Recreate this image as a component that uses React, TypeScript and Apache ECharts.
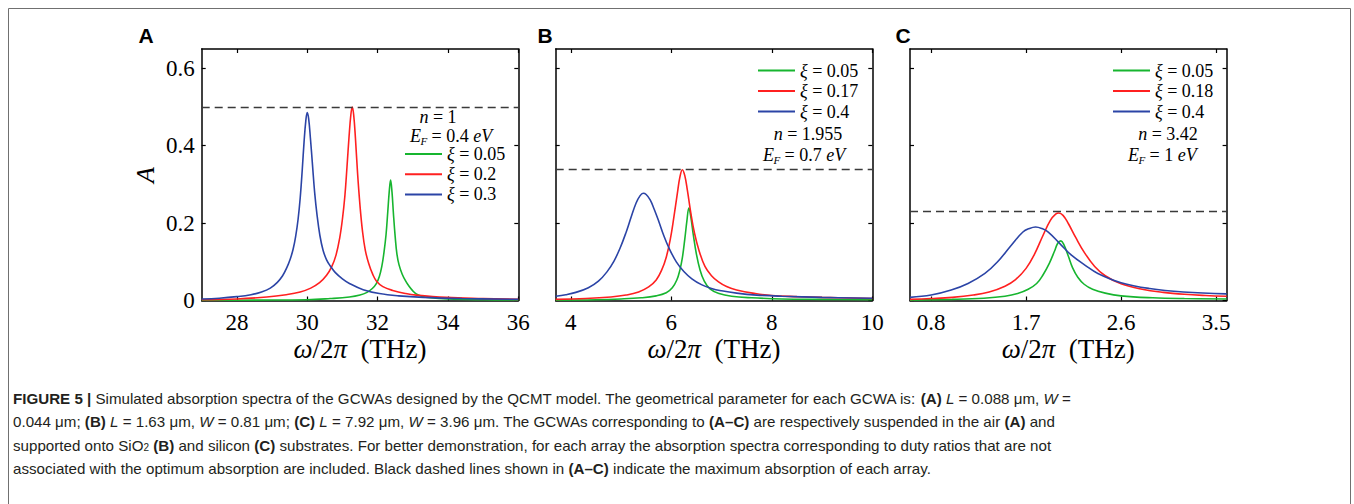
import React, { useEffect, useRef } from "react";
import * as echarts from "echarts";

// ---------- data ----------
const namesA = ["ξ = 0.05", "ξ = 0.2", "ξ = 0.3"];
const namesB = ["ξ = 0.05", "ξ = 0.17", "ξ = 0.4"];
const namesC = ["ξ = 0.05", "ξ = 0.18", "ξ = 0.4"];

const aGreen = [
  [27, 0.0], [28.5, 0.001], [30, 0.002], [30.65, 0.005], [31.2, 0.009], [31.5, 0.014],
  [31.7, 0.021], [31.85, 0.031], [31.96, 0.043], [32.05, 0.062], [32.12, 0.088], [32.18, 0.123],
  [32.24, 0.17], [32.29, 0.23], [32.33, 0.28], [32.37, 0.311], [32.41, 0.28], [32.45, 0.225],
  [32.5, 0.165], [32.55, 0.12], [32.61, 0.092], [32.7, 0.068], [32.8, 0.05], [32.9, 0.036],
  [33.0, 0.025], [33.1, 0.017], [33.25, 0.011], [33.5, 0.007], [34, 0.004], [35, 0.002], [36, 0.001],
];
const aRed = [
  [27, 0.002], [28, 0.004], [28.85, 0.009], [29.4, 0.015], [29.8, 0.022], [30.1, 0.032],
  [30.35, 0.046], [30.55, 0.065], [30.7, 0.088], [30.82, 0.118], [30.92, 0.16], [31.0, 0.21],
  [31.07, 0.27], [31.13, 0.345], [31.19, 0.425], [31.24, 0.48], [31.28, 0.5], [31.32, 0.48],
  [31.37, 0.42], [31.43, 0.33], [31.5, 0.245], [31.57, 0.18], [31.65, 0.13], [31.75, 0.095],
  [31.86, 0.068], [31.97, 0.05], [32.15, 0.036], [32.43, 0.026], [32.8, 0.018], [33.1, 0.014],
  [33.95, 0.008], [35, 0.005], [36, 0.003],
];
const aBlue = [
  [27, 0.004], [27.5, 0.006], [28, 0.01], [28.4, 0.015], [28.7, 0.022], [28.95, 0.032],
  [29.15, 0.047], [29.3, 0.064], [29.42, 0.085], [29.52, 0.108], [29.6, 0.133], [29.67, 0.165],
  [29.74, 0.21], [29.8, 0.265], [29.86, 0.34], [29.91, 0.41], [29.96, 0.465], [30.0, 0.486],
  [30.04, 0.47], [30.09, 0.42], [30.15, 0.35], [30.21, 0.28], [30.28, 0.22], [30.36, 0.168],
  [30.45, 0.13], [30.55, 0.105], [30.65, 0.09], [30.8, 0.072], [31.0, 0.056], [31.2, 0.044],
  [31.59, 0.028], [32.05, 0.018], [32.6, 0.012], [33.3, 0.008], [34.4, 0.005], [36, 0.003],
];

const bGreen = [
  [3.7, 0.001], [4.5, 0.002], [5.0, 0.004], [5.4, 0.007], [5.7, 0.012], [5.9, 0.02],
  [6.02, 0.033], [6.11, 0.053], [6.17, 0.078], [6.22, 0.11], [6.27, 0.16], [6.31, 0.205],
  [6.35, 0.239], [6.39, 0.215], [6.44, 0.168], [6.5, 0.12], [6.57, 0.08], [6.65, 0.052],
  [6.77, 0.03], [6.95, 0.018], [7.2, 0.011], [7.6, 0.007], [8.2, 0.004], [9, 0.003], [10, 0.002],
];
const bRed = [
  [3.7, 0.003], [4.3, 0.005], [4.8, 0.009], [5.1, 0.014], [5.35, 0.022], [5.55, 0.035],
  [5.7, 0.053], [5.81, 0.079], [5.9, 0.112], [5.98, 0.158], [6.05, 0.214], [6.12, 0.276],
  [6.17, 0.318], [6.22, 0.338], [6.27, 0.322], [6.32, 0.285], [6.39, 0.225], [6.46, 0.175],
  [6.55, 0.13], [6.67, 0.088], [6.8, 0.064], [6.94, 0.048], [7.1, 0.036], [7.3, 0.027],
  [7.67, 0.018], [8.0, 0.013], [8.5, 0.01], [9, 0.008], [10, 0.005],
];
const bBlue = [
  [3.7, 0.011], [3.9, 0.015], [4.1, 0.021], [4.35, 0.033], [4.55, 0.05], [4.72, 0.074],
  [4.86, 0.102], [4.98, 0.135], [5.1, 0.176], [5.2, 0.215], [5.3, 0.252], [5.38, 0.271],
  [5.44, 0.277], [5.5, 0.274], [5.58, 0.26], [5.66, 0.236], [5.75, 0.205], [5.85, 0.168],
  [5.96, 0.134], [6.1, 0.1], [6.25, 0.075], [6.41, 0.056], [6.6, 0.041], [6.8, 0.031],
  [7.0, 0.025], [7.3, 0.019], [7.7, 0.014], [8.2, 0.011], [9, 0.008], [10, 0.006],
];

const cGreen = [
  [0.6, 0.001], [1.0, 0.003], [1.3, 0.006], [1.5, 0.011], [1.62, 0.018], [1.72, 0.029],
  [1.8, 0.044], [1.86, 0.066], [1.92, 0.096], [1.97, 0.128], [2.0, 0.148], [2.03, 0.154],
  [2.06, 0.143], [2.1, 0.115], [2.14, 0.085], [2.19, 0.06], [2.25, 0.042], [2.33, 0.029],
  [2.45, 0.019], [2.6, 0.012], [2.9, 0.007], [3.2, 0.005], [3.6, 0.004],
];
const cRed = [
  [0.6, 0.003], [0.8, 0.005], [1.0, 0.008], [1.2, 0.014], [1.35, 0.022], [1.5, 0.037],
  [1.6, 0.054], [1.7, 0.083], [1.78, 0.12], [1.86, 0.168], [1.93, 0.207], [1.98, 0.223],
  [2.01, 0.226], [2.05, 0.22], [2.1, 0.199], [2.17, 0.163], [2.25, 0.125], [2.35, 0.088],
  [2.45, 0.064], [2.6, 0.043], [2.8, 0.029], [3.0, 0.021], [3.2, 0.016], [3.4, 0.013], [3.6, 0.011],
];
const cBlue = [
  [0.6, 0.008], [0.8, 0.014], [0.99, 0.027], [1.15, 0.044], [1.31, 0.07], [1.43, 0.1],
  [1.56, 0.143], [1.67, 0.177], [1.73, 0.186], [1.79, 0.19], [1.85, 0.186], [1.91, 0.177],
  [2.02, 0.147], [2.13, 0.117], [2.26, 0.091], [2.38, 0.07], [2.6, 0.046], [2.87, 0.031],
  [3.19, 0.022], [3.6, 0.017],
];

const maxA = 0.5;
const maxB = 0.338;
const maxC = 0.226;

const xTicksA = [28, 30, 32, 34, 36];
const xTicksB = [4, 6, 8, 10];
const xTicksC = [0.8, 1.7, 2.6, 3.5];
const yTicks = [0, 0.2, 0.4, 0.6];

// ---------- styling ----------
const SERIF = '"Liberation Serif", "Times New Roman", serif';
const SANS = '"Liberation Sans", Arial, sans-serif';
const COLORS = ["#17b52f", "#ff2020", "#2b44a6"];
const CAP = 15.15;

export default function App() {
  const ref = useRef<HTMLDivElement>(null);

  useEffect(() => {
    if (!ref.current) return;
    const chart = echarts.init(ref.current, null, { renderer: "svg" });

    const panels = [
      { left: 201.7, min: 27, max: 36, ticks: xTicksA, names: namesA, data: [aGreen, aRed, aBlue], peak: maxA, lgLeft: 405, lgTop: 145, lgGap: 2.2 },
      { left: 555.7, min: 3.7, max: 10, ticks: xTicksB, names: namesB, data: [bGreen, bRed, bBlue], peak: maxB, lgLeft: 758, lgTop: 61.5, lgGap: 2.5 },
      { left: 910, min: 0.6, max: 3.6, ticks: xTicksC, names: namesC, data: [cGreen, cRed, cBlue], peak: maxC, lgLeft: 1113, lgTop: 61.5, lgGap: 2.5 },
    ];

    const grid: any[] = [];
    const xAxis: any[] = [];
    const yAxis: any[] = [];
    const series: any[] = [];
    const legend: any[] = [];

    const axisLine = { show: true, onZero: false, lineStyle: { color: "#000", width: 1.5 } };
    const tick = (vals: number[]) => ({
      show: true, inside: true, length: 4, customValues: vals, lineStyle: { color: "#000", width: 1.2 },
    });

    panels.forEach((p, i) => {
      grid.push({ left: p.left, top: 49, width: 316.6, height: 251.5 });
      const labelStyle = { fontFamily: SERIF, fontSize: 23, color: "#000" };
      xAxis.push({
        type: "value", gridIndex: i, min: p.min, max: p.max, position: "bottom",
        axisLine, axisTick: tick(p.ticks),
        axisLabel: { show: true, customValues: p.ticks, margin: 10, ...labelStyle },
        splitLine: { show: false },
        name: "{i|ω}/2{i|π}  (THz)", nameLocation: "middle", nameGap: 35,
        nameTextStyle: {
          fontFamily: SERIF, fontSize: 27, color: "#000",
          rich: { i: { fontFamily: SERIF, fontSize: 27, fontStyle: "italic", color: "#000" } },
        },
      });
      xAxis.push({
        type: "value", gridIndex: i, min: p.min, max: p.max, position: "top",
        axisLine, axisTick: tick(p.ticks),
        axisLabel: { show: false },
        splitLine: { show: false },
      });
      yAxis.push({
        type: "value", gridIndex: i, min: 0, max: 0.65, position: "left",
        axisLine, axisTick: tick(yTicks),
        axisLabel: { show: i === 0, customValues: yTicks, margin: 7, ...labelStyle },
        splitLine: { show: false },
      });
      yAxis.push({
        type: "value", gridIndex: i, min: 0, max: 0.65, position: "right",
        axisLine, axisTick: tick(yTicks),
        axisLabel: { show: false },
        splitLine: { show: false },
      });
      p.names.forEach((nm, k) => {
        const s: any = {
          type: "line", name: nm, xAxisIndex: 2 * i, yAxisIndex: 2 * i,
          data: p.data[k], showSymbol: false, symbol: "none",
          smooth: 0.4,
          lineStyle: { color: COLORS[k], width: 1.6 }, itemStyle: { color: COLORS[k] },
          z: 3,
        };
        if (k === 1) {
          s.markLine = {
            silent: true, symbol: ["none", "none"], label: { show: false },
            lineStyle: { type: [8, 5], color: "#3a3a3a", width: 1.3 },
            data: [{ yAxis: p.peak }],
          };
        }
        series.push(s);
      });
      legend.push({
        orient: "vertical", left: p.lgLeft, top: p.lgTop, padding: 0,
        icon: "rect", itemWidth: 37, itemHeight: 2, itemGap: p.lgGap,
        data: p.names,
        formatter: (name: string) => "{i|ξ}{r|" + name.slice(1) + "}",
        textStyle: {
          fontFamily: SERIF, fontSize: 18, color: "#000",
          rich: {
            i: { fontFamily: SERIF, fontSize: 18, fontStyle: "italic", color: "#000" },
            r: { fontFamily: SERIF, fontSize: 18, color: "#000" },
          },
        },
      });
    });

    const mathRich = {
      i: { fontFamily: SERIF, fontSize: 18, fontStyle: "italic", color: "#000", lineHeight: 16 },
      r: { fontFamily: SERIF, fontSize: 18, color: "#000", lineHeight: 16 },
    };
    const mathText = (x: number, y: number, text: string, align = "center") => ({
      type: "text", x, y, z: 10,
      style: {
        text, rich: mathRich, fontFamily: SERIF, fontSize: 18, fill: "#000",
        align, verticalAlign: "middle", textAlign: align, textVerticalAlign: "middle",
      },
    });
    // E_F = ... eV built from three pieces so that F sits as a subscript
    const efText = (xLeft: number, y: number, rest: string) => [
      mathText(xLeft, y, "{i|E}", "left"),
      {
        type: "text", x: xLeft + 10.5, y: y + 5, z: 10,
        style: {
          text: "F", fontFamily: SERIF, fontSize: 11, fontStyle: "italic", fill: "#000",
          align: "left", verticalAlign: "middle", textAlign: "left", textVerticalAlign: "middle",
        },
      },
      mathText(xLeft + 17, y, rest, "left"),
    ];

    const capRich = {
      b: { fontFamily: SANS, fontSize: CAP, fontWeight: "bold", color: "#231f20" },
      i: { fontFamily: SANS, fontSize: CAP, fontStyle: "italic", color: "#231f20" },
      s: { fontFamily: SANS, fontSize: 10, color: "#231f20", verticalAlign: "bottom", lineHeight: 12 },
    };
    const capLines = [
      "{b|FIGURE 5 |} Simulated absorption spectra of the GCWAs designed by the QCMT model. The geometrical parameter for each GCWA is: {b|(A)} {i|L} = 0.088 μm, {i|W} =",
      "0.044 μm; {b|(B)} {i|L} = 1.63 μm, {i|W} = 0.81 μm; {b|(C)} {i|L} = 7.92 μm, {i|W} = 3.96 μm. The GCWAs corresponding to {b|(A–C)} are respectively suspended in the air {b|(A)} and",
      "supported onto SiO{s|2} {b|(B)} and silicon {b|(C)} substrates. For better demonstration, for each array the absorption spectra corresponding to duty ratios that are not",
      "associated with the optimum absorption are included. Black dashed lines shown in {b|(A–C)} indicate the maximum absorption of each array.",
    ];
    const capY = [398.5, 421.8, 445.1, 468.4];

    const graphic: any[] = [
      {
        type: "rect", z: 0, silent: true,
        shape: { x: 8.5, y: 8.5, width: 1342, height: 520 },
        style: { fill: "none", stroke: "#707070", lineWidth: 1 },
      },
      ...["A", "B", "C"].map((t, i) => ({
        type: "text", x: [146, 545, 903][i], y: 35, z: 10,
        style: {
          text: t, fontFamily: SANS, fontSize: 21, fontWeight: "bold", fill: "#000",
          align: "center", verticalAlign: "middle", textAlign: "center", textVerticalAlign: "middle",
        },
      })),
      {
        type: "text", x: 145, y: 175, rotation: Math.PI / 2, z: 10,
        style: {
          text: "A", fontFamily: SERIF, fontSize: 26, fontStyle: "italic", fill: "#000",
          align: "center", verticalAlign: "middle", textAlign: "center", textVerticalAlign: "middle",
        },
      },
      mathText(438, 117, "{i|n}{r| = 1}"),
      ...efText(410, 136, "{r| = 0.4 }{i|eV}"),
      mathText(808, 134, "{i|n}{r| = 1.955}"),
      ...efText(763, 155, "{r| = 0.7 }{i|eV}"),
      mathText(1168, 134, "{i|n}{r| = 3.42}"),
      ...efText(1128, 155, "{r| = 1 }{i|eV}"),
      ...capLines.map((t, k) => ({
        type: "text", x: 13, y: capY[k], z: 10,
        style: {
          text: t, rich: capRich, fontFamily: SANS, fontSize: CAP, fill: "#231f20",
          align: "left", verticalAlign: "middle", textAlign: "left", textVerticalAlign: "middle",
        },
      })),
    ];

    chart.setOption({
      animation: false,
      backgroundColor: "#fff",
      grid, xAxis, yAxis, series, legend, graphic,
    });

    return () => chart.dispose();
  }, []);

  return (
    <div
      ref={ref}
      style={{ position: "absolute", left: 0, top: 0, width: 1354, height: 504 }}
    />
  );
}
